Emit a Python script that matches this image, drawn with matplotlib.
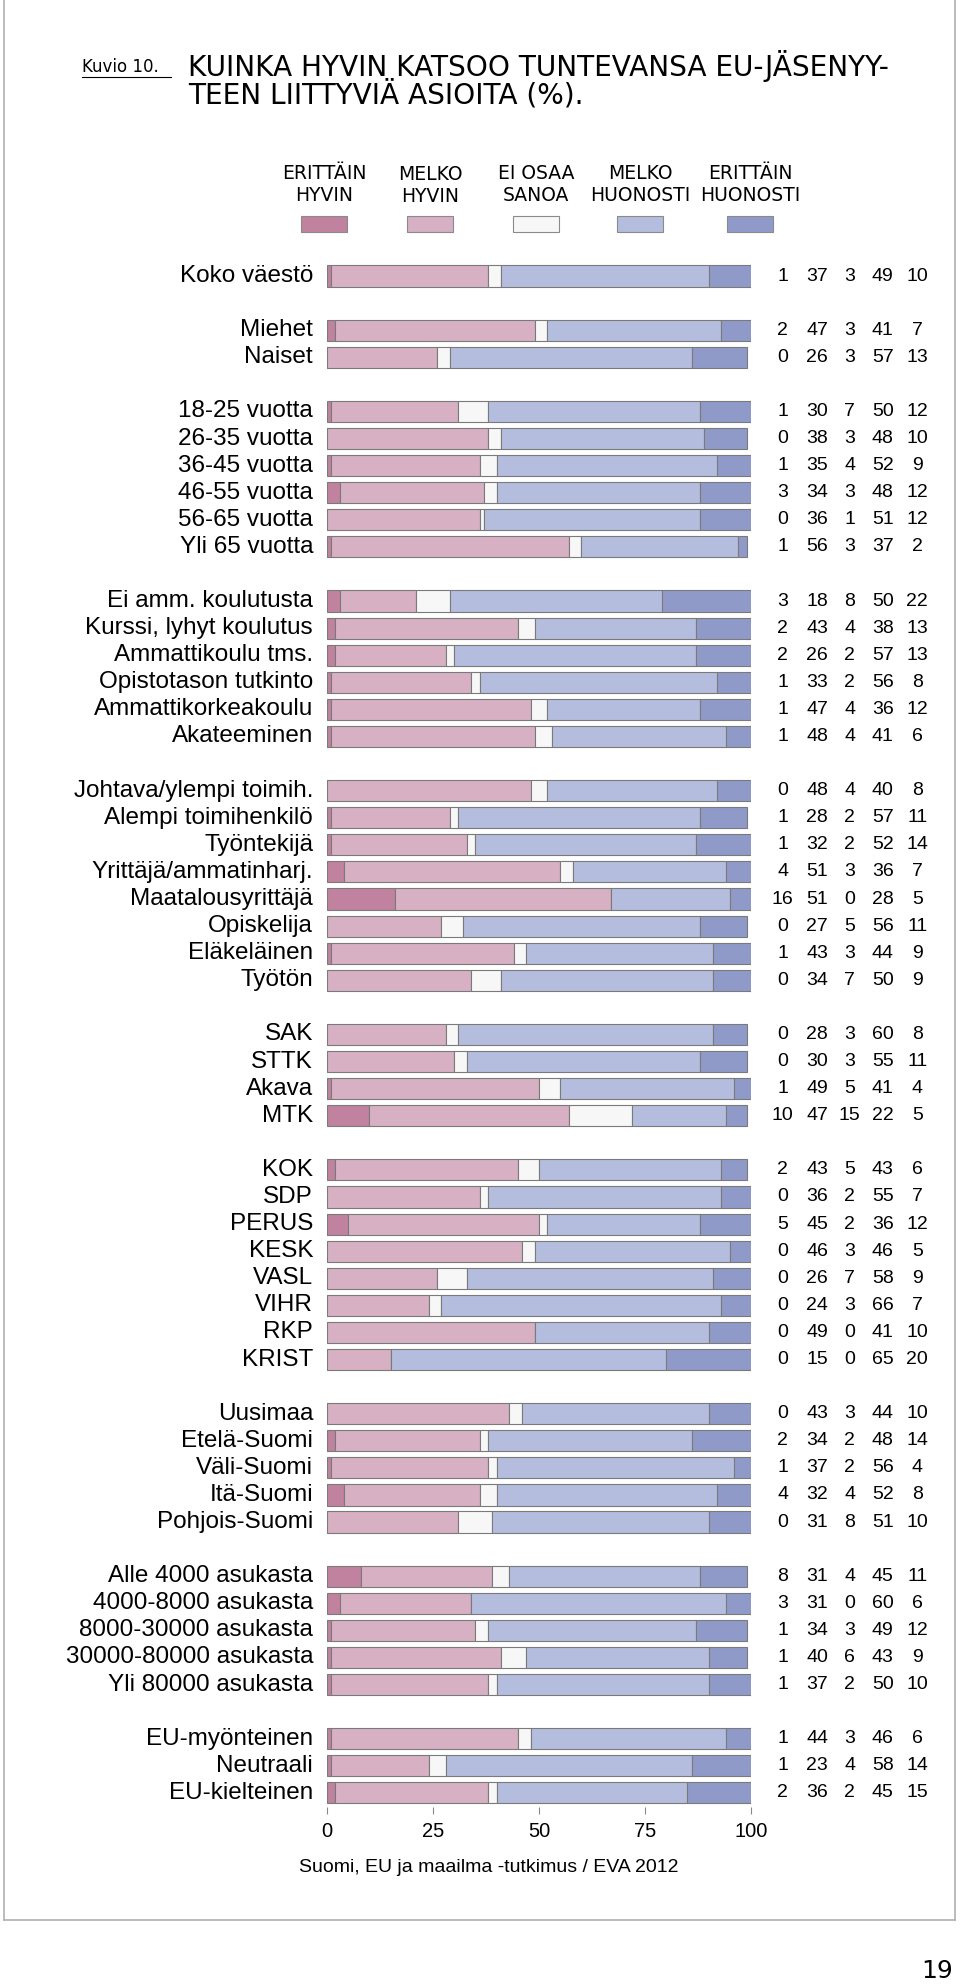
import numpy as np
import matplotlib
matplotlib.use('Agg')
import matplotlib.pyplot as plt
from matplotlib.patches import Rectangle
from matplotlib.lines import Line2D

# Data
labels = ['Koko väestö', None,
          'Miehet', 'Naiset', None,
          '18-25 vuotta', '26-35 vuotta', '36-45 vuotta', '46-55 vuotta', '56-65 vuotta', 'Yli 65 vuotta', None,
          'Ei amm. koulutusta', 'Kurssi, lyhyt koulutus', 'Ammattikoulu tms.', 'Opistotason tutkinto',
          'Ammattikorkeakoulu', 'Akateeminen', None,
          'Johtava/ylempi toimih.', 'Alempi toimihenkilö', 'Työntekijä', 'Yrittäjä/ammatinharj.',
          'Maatalousyrittäjä', 'Opiskelija', 'Eläkeläinen', 'Työtön', None,
          'SAK', 'STTK', 'Akava', 'MTK', None,
          'KOK', 'SDP', 'PERUS', 'KESK', 'VASL', 'VIHR', 'RKP', 'KRIST', None,
          'Uusimaa', 'Etelä-Suomi', 'Väli-Suomi', 'Itä-Suomi', 'Pohjois-Suomi', None,
          'Alle 4000 asukasta', '4000-8000 asukasta', '8000-30000 asukasta', '30000-80000 asukasta',
          'Yli 80000 asukasta', None,
          'EU-myönteinen', 'Neutraali', 'EU-kielteinen']

erittain_hyvin = [1, None, 2, 0, None, 1, 0, 1, 3, 0, 1, None, 3, 2, 2, 1, 1, 1, None,
                  0, 1, 1, 4, 16, 0, 1, 0, None, 0, 0, 1, 10, None,
                  2, 0, 5, 0, 0, 0, 0, 0, None, 0, 2, 1, 4, 0, None,
                  8, 3, 1, 1, 1, None, 1, 1, 2]
melko_hyvin = [37, None, 47, 26, None, 30, 38, 35, 34, 36, 56, None, 18, 43, 26, 33, 47, 48, None,
               48, 28, 32, 51, 51, 27, 43, 34, None, 28, 30, 49, 47, None,
               43, 36, 45, 46, 26, 24, 49, 15, None, 43, 34, 37, 32, 31, None,
               31, 31, 34, 40, 37, None, 44, 23, 36]
ei_osaa = [3, None, 3, 3, None, 7, 3, 4, 3, 1, 3, None, 8, 4, 2, 2, 4, 4, None,
           4, 2, 2, 3, 0, 5, 3, 7, None, 3, 3, 5, 15, None,
           5, 2, 2, 3, 7, 3, 0, 0, None, 3, 2, 2, 4, 8, None,
           4, 0, 3, 6, 2, None, 3, 4, 2]
melko_huonosti = [49, None, 41, 57, None, 50, 48, 52, 48, 51, 37, None, 50, 38, 57, 56, 36, 41, None,
                  40, 57, 52, 36, 28, 56, 44, 50, None, 60, 55, 41, 22, None,
                  43, 55, 36, 46, 58, 66, 41, 65, None, 44, 48, 56, 52, 51, None,
                  45, 60, 49, 43, 50, None, 46, 58, 45]
erittain_huonosti = [10, None, 7, 13, None, 12, 10, 9, 12, 12, 2, None, 22, 13, 13, 8, 12, 6, None,
                     8, 11, 14, 7, 5, 11, 9, 9, None, 8, 11, 4, 5, None,
                     6, 7, 12, 5, 9, 7, 10, 20, None, 10, 14, 4, 8, 10, None,
                     11, 6, 12, 9, 10, None, 6, 14, 15]

series = [erittain_hyvin, melko_hyvin, ei_osaa, melko_huonosti, erittain_huonosti]
legend_names = ['ERITTÄIN\nHYVIN', 'MELKO\nHYVIN', 'EI OSAA\nSANOA', 'MELKO\nHUONOSTI', 'ERITTÄIN\nHUONOSTI']
colors = ['#c0829f', '#d8b0c3', '#f7f7f7', '#b5bddf', '#8f9ac9']

W, H = 960, 1985
narrow = ['Liberation Sans Narrow', 'DejaVu Sans Condensed', 'DejaVu Sans']
plt.rcParams['font.family'] = ['Liberation Sans', 'DejaVu Sans']

fig = plt.figure(figsize=(W / 100, H / 100), dpi=100)

def fx(px):
    return px / W

def fy(py):
    return 1 - py / H

# page frame
for xs, ys in [([4, 4], [0, 1920]), ([955, 955], [0, 1920]), ([4, 955], [1920, 1920])]:
    fig.add_artist(Line2D([fx(x) for x in xs], [fy(y) for y in ys], color='#b0b0b0', lw=1.2))

# title
fig.text(fx(82), fy(67), 'Kuvio 10.', family=narrow, fontsize=12, va='center', ha='left')
fig.add_artist(Line2D([fx(82), fx(171)], [fy(77), fy(77)], color='black', lw=0.8))
fig.text(fx(188), fy(66), 'KUINKA HYVIN KATSOO TUNTEVANSA EU-JÄSENYY-', family=narrow,
         fontsize=20.2, va='center', ha='left')
fig.text(fx(188), fy(95), 'TEEN LIITTYVIÄ ASIOITA (%).', family=narrow,
         fontsize=20.2, va='center', ha='left')

# legend
leg_x = [324, 430, 536, 640, 750]
for i, (name, c) in enumerate(zip(legend_names, colors)):
    dy = 2 if i == 1 else 0
    fig.text(fx(leg_x[i]), fy(184 + dy), name, family=narrow, fontsize=13.5,
             ha='center', va='center', linespacing=1.2)
    fig.add_artist(Rectangle((fx(leg_x[i] - 23), fy(232)), 46 / W, 16 / H,
                             facecolor=c, edgecolor='#8a8a8a', lw=0.8))

# bars
ax = fig.add_axes([fx(327), fy(1807), 424 / W, (1807 - 262) / H])
y = np.arange(len(labels))
rows = [i for i, lab in enumerate(labels) if lab is not None]
left = np.zeros(len(rows))
for s, c in zip(series, colors):
    vals = np.array([s[i] for i in rows], dtype=float)
    ax.barh(y[rows], vals, left=left, height=0.78, color=c, edgecolor='#7a7a7a', linewidth=0.8)
    left += vals

num_x = [107.5, 115.6, 123.3, 131.1, 139.2]
for i in rows:
    ax.text(-3.3, i, labels[i], ha='right', va='center', fontsize=17.5, clip_on=False)
    for j, s in enumerate(series):
        ax.text(num_x[j], i, str(s[i]), ha='center', va='center', fontsize=14, clip_on=False)

ax.set_xlim(0, 100)
ax.set_ylim(56.52, -0.517)
ax.set_xticks([0, 25, 50, 75, 100])
ax.set_yticks([])
ax.tick_params(axis='x', direction='out', length=5, color='#888888', labelsize=14.5, pad=6)
for sp in ax.spines.values():
    sp.set_visible(False)
ax.patch.set_alpha(0)

fig.text(fx(489), fy(1867), 'Suomi, EU ja maailma -tutkimus / EVA 2012', fontsize=14,
         ha='center', va='center')
fig.text(fx(953), fy(1971), '19', family=narrow, fontsize=18, ha='right', va='center')

fig.savefig('out.png', dpi=100)
